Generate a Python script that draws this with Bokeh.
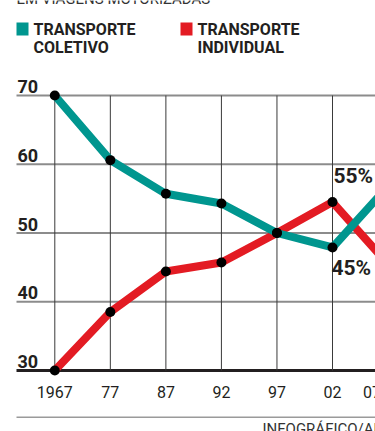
from bokeh.plotting import figure
from bokeh.models import Range1d
from bokeh.core.properties import value
from bokeh.embed import file_html
from bokeh.resources import INLINE

# ---- data ----
years = ["1967", "77", "87", "92", "97", "02", "07"]
coletivo = [70, 60.6, 55.7, 54.3, 50, 47.9, 56.8]
individual = [30, 38.5, 44.4, 45.7, 50, 54.5, 45.5]
y_ticks = [30, 40, 50, 60, 70]
legend_coletivo = ["TRANSPORTE", "COLETIVO"]
legend_individual = ["TRANSPORTE", "INDIVIDUAL"]
callouts = ["55%", "45%"]
header = "EM VIAGENS MOTORIZADAS"
credit = "INFOGRÁFICO/AE"

TEAL = "#00968f"
RED = "#e31b23"
INK = "#231f20"
FONT = value("Roboto")

# ---- layout (pixels of the 375x431 page) ----
W, H = 375, 431
X0, STEP = 54.3, 55.54      # pixel of the first category, pixels per category
TOP_PX, UNIT = 95, 6.875    # pixel of the top tick, pixels per unit
ytop = max(y_ticks)
ybase = min(y_ticks)


def X(px):
    return (px - X0) / STEP


def Y(py):
    return ytop - (py - TOP_PX) / UNIT


idx = list(range(len(years)))

p = figure(width=W, height=H, output_backend="svg", toolbar_location=None,
           x_range=Range1d(X(0), X(W)), y_range=Range1d(Y(H), Y(0)),
           x_axis_type=None, y_axis_type=None, min_border=0)
p.grid.visible = False
p.outline_line_color = None
p.background_fill_color = "white"
p.border_fill_color = "white"

# horizontal rules
upper = [t for t in y_ticks if t != ybase]
p.segment(x0=[X(16)] * len(upper), x1=[X(W)] * len(upper), y0=upper, y1=upper,
          line_color="#8c8c8c", line_width=2)
p.segment(x0=[X(16)], x1=[X(W)], y0=[ybase], y1=[ybase], line_color=INK, line_width=3)

# vertical category lines
p.segment(x0=idx, x1=idx, y0=[ybase] * len(idx), y1=[ytop] * len(idx),
          line_color="#3a3a3a", line_width=1)

# series
p.line(idx, individual, line_color=RED, line_width=8, line_join="round")
p.line(idx, coletivo, line_color=TEAL, line_width=8, line_join="round")
p.scatter(idx, individual, size=10, fill_color="black", line_color=None)
p.scatter(idx, coletivo, size=10, fill_color="black", line_color=None)

# y tick labels (sit above their rules)
p.text(x=[X(17)] * len(y_ticks), y=y_ticks, text=[str(t) for t in y_ticks],
       text_font=FONT, text_font_style="bold", text_font_size="18px",
       text_color=INK, text_baseline="alphabetic", y_offset=-9)

# x tick labels
p.text(x=idx[:-1], y=[Y(391)] * (len(idx) - 1), text=years[:-1],
       text_font=FONT, text_font_size="16px", text_color=INK,
       text_align="center", text_baseline="alphabetic")
p.text(x=[idx[-1]], y=[Y(391)], text=[years[-1]], x_offset=-16,
       text_font=FONT, text_font_size="16px", text_color=INK,
       text_align="center", text_baseline="alphabetic")

# callouts
i02 = years.index("02")
p.text(x=[i02, i02], y=[individual[i02], coletivo[i02]], text=callouts,
       x_offset=[1, -1], y_offset=[-26, 21],
       text_font=FONT, text_font_style="bold", text_font_size="21px",
       text_color=INK, text_align="left", text_baseline="alphabetic")

# legend
p.rect(x=[X(22), X(186)], y=[Y(28.5)] * 2, width=12, height=13,
       width_units="screen", height_units="screen",
       fill_color=[TEAL, RED], line_color=None)
for lx, lines in ((X(33), legend_coletivo), (X(197), legend_individual)):
    p.text(x=[lx, lx], y=[Y(29), Y(46.5)], text=lines,
           text_font=FONT, text_font_style="bold", text_font_size="16px",
           text_color=INK, text_baseline="alphabetic")

# header (cut off by the top edge) and footer
p.text(x=[X(16)], y=[Y(-2)], text=[header], text_font=FONT, text_font_size="15px",
       text_color="#333333", text_baseline="alphabetic")
p.segment(x0=[X(16)], x1=[X(W)], y0=[Y(416.7)], y1=[Y(416.7)],
          line_color="#9a9a9a", line_width=1.5)
p.text(x=[X(262)], y=[Y(428)], text=[credit], text_font=FONT, text_font_size="15px",
       text_color="#333333", text_baseline="alphabetic")

open("out.html", "w").write(file_html(p, INLINE))
